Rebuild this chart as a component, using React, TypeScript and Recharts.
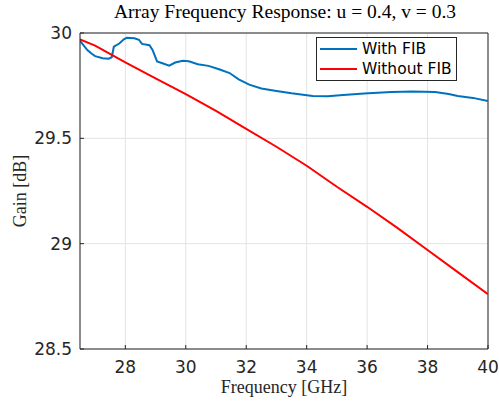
import React from 'react';
import {
  LineChart,
  Line,
  XAxis,
  YAxis,
  CartesianGrid,
  ReferenceLine,
  Label
} from 'recharts';

// Gain vs frequency, with and without the FIB layer
const withFib = [
  { f: 26.5, g: 29.962 },
  { f: 26.6, g: 29.945 },
  { f: 26.75, g: 29.918 },
  { f: 26.9, g: 29.9 },
  { f: 27.0, g: 29.89 },
  { f: 27.25, g: 29.88 },
  { f: 27.45, g: 29.878 },
  { f: 27.55, g: 29.885 },
  { f: 27.62, g: 29.935 },
  { f: 27.8, g: 29.95 },
  { f: 27.95, g: 29.97 },
  { f: 28.05, g: 29.977 },
  { f: 28.3, g: 29.975 },
  { f: 28.45, g: 29.968 },
  { f: 28.55, g: 29.948 },
  { f: 28.8, g: 29.942 },
  { f: 28.9, g: 29.92 },
  { f: 29.05, g: 29.865 },
  { f: 29.25, g: 29.855 },
  { f: 29.45, g: 29.845 },
  { f: 29.65, g: 29.86 },
  { f: 29.9, g: 29.868 },
  { f: 30.1, g: 29.866 },
  { f: 30.4, g: 29.852 },
  { f: 30.75, g: 29.844 },
  { f: 31.1, g: 29.828 },
  { f: 31.45, g: 29.81 },
  { f: 31.75, g: 29.78 },
  { f: 32.1, g: 29.755 },
  { f: 32.5, g: 29.737 },
  { f: 33.0, g: 29.725 },
  { f: 33.5, g: 29.714 },
  { f: 34.2, g: 29.701 },
  { f: 34.7, g: 29.7 },
  { f: 35.1, g: 29.704 },
  { f: 35.9, g: 29.713 },
  { f: 36.8, g: 29.72 },
  { f: 37.5, g: 29.722 },
  { f: 38.25, g: 29.72 },
  { f: 38.7, g: 29.71 },
  { f: 39.0, g: 29.701 },
  { f: 39.5, g: 29.692 },
  { f: 40.0, g: 29.677 }
];

const withoutFib = [
  { f: 26.5, g: 29.97 },
  { f: 27, g: 29.94 },
  { f: 28, g: 29.86 },
  { f: 29, g: 29.785 },
  { f: 30, g: 29.71 },
  { f: 31, g: 29.63 },
  { f: 32, g: 29.545 },
  { f: 33, g: 29.46 },
  { f: 34, g: 29.37 },
  { f: 35, g: 29.27 },
  { f: 36, g: 29.175 },
  { f: 37, g: 29.075 },
  { f: 38, g: 28.97 },
  { f: 39, g: 28.865 },
  { f: 40, g: 28.76 }
];

const xTicks = [28, 30, 32, 34, 36, 38, 40];
const yTicks = [28.5, 29, 29.5, 30];

const AXIS = '#262626';
const SANS = '"DejaVu Sans", sans-serif';
const SERIF = '"Liberation Serif", "DejaVu Serif", serif';

const series = [
  { name: 'With FIB', color: '#0072BD' },
  { name: 'Without FIB', color: '#FF0000' }
];

const LegendBox = () => (
  <div
    style={{
      position: 'absolute',
      left: 316,
      top: 37,
      width: 133,
      border: `1px solid ${AXIS}`,
      background: '#fff',
      padding: '1px 3px',
      fontFamily: SANS,
      fontSize: 15.5,
      color: '#000',
      lineHeight: '20px',
      whiteSpace: 'nowrap'
    }}
  >
    {series.map(s => (
      <div key={s.name} style={{ display: 'flex', alignItems: 'center' }}>
        <span
          style={{ display: 'inline-block', width: 37, height: 2, background: s.color, marginRight: 5 }}
        />
        {s.name}
      </div>
    ))}
  </div>
);

const App: React.FC = () => {
  return (
    <div style={{ position: 'absolute', left: 0, top: 0, width: 499, height: 401, background: '#fff' }}>
      <div
        style={{
          position: 'absolute',
          top: 1,
          left: 80,
          width: 410,
          textAlign: 'center',
          fontFamily: SERIF,
          fontSize: 19.5,
          color: '#000'
        }}
      >
        Array Frequency Response: u = 0.4, v = 0.3
      </div>
      <LineChart
        width={499}
        height={401}
        margin={{ top: 33, right: 11, bottom: 0, left: 0 }}
      >
        <CartesianGrid stroke="#e3e3e3" strokeWidth={1} />
        <XAxis
          type="number"
          dataKey="f"
          domain={[26.5, 40]}
          ticks={xTicks}
          allowDataOverflow
          height={52}
          tickSize={-4}
          tickMargin={16}
          tickLine={{ stroke: AXIS }}
          axisLine={{ stroke: AXIS }}
          tick={{ fill: AXIS, fontSize: 17, fontFamily: SANS }}
        >
          <Label
            value="Frequency [GHz]"
            position="insideBottom"
            offset={8}
            style={{ fontFamily: SERIF, fontSize: 18, fill: AXIS }}
          />
        </XAxis>
        <YAxis
          type="number"
          dataKey="g"
          domain={[28.5, 30]}
          ticks={yTicks}
          allowDataOverflow
          width={80}
          tickSize={-4}
          tickMargin={12}
          tickLine={{ stroke: AXIS }}
          axisLine={{ stroke: AXIS }}
          tick={{ fill: AXIS, fontSize: 17, fontFamily: SANS }}
        >
          <Label
            value="Gain [dB]"
            angle={-90}
            position="insideLeft"
            offset={20}
            style={{ fontFamily: SERIF, fontSize: 18, fill: AXIS, textAnchor: 'middle' }}
          />
        </YAxis>
        <ReferenceLine x={40} stroke={AXIS} />
        <ReferenceLine y={30} stroke={AXIS} />
        <Line
          data={withFib}
          dataKey="g"
          name="With FIB"
          type="linear"
          stroke="#0072BD"
          strokeWidth={2}
          dot={false}
          isAnimationActive={false}
        />
        <Line
          data={withoutFib}
          dataKey="g"
          name="Without FIB"
          type="linear"
          stroke="#FF0000"
          strokeWidth={2}
          dot={false}
          isAnimationActive={false}
        />
      </LineChart>
      <LegendBox />
    </div>
  );
};

export default App;
